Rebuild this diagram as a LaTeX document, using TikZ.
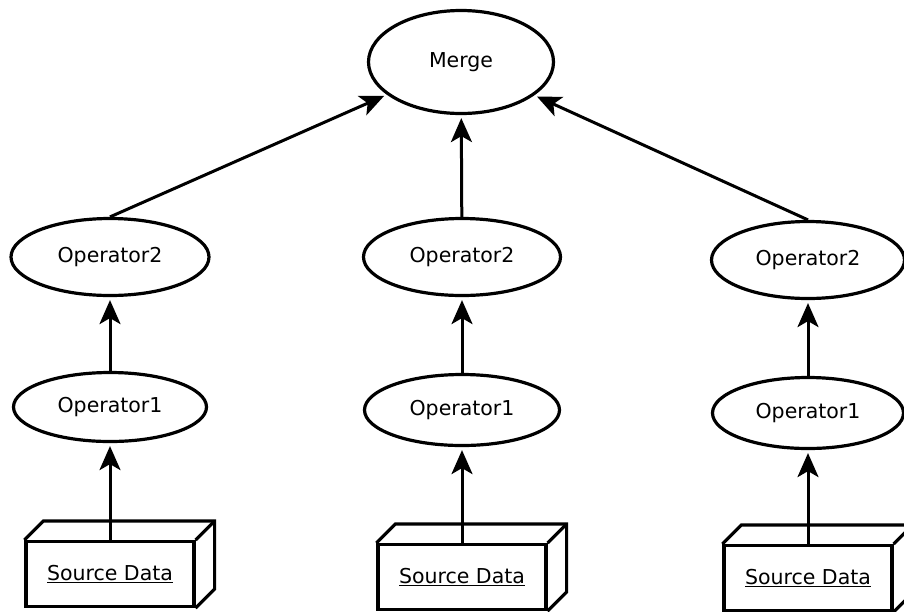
\documentclass[tikz,border=0pt]{standalone}
\usepackage{fontspec}
\setmainfont{DejaVu Sans}
\usetikzlibrary{shapes.geometric,arrows.meta}
\begin{document}
\begin{tikzpicture}[x=1pt,y=-1pt,
  op/.style={ellipse,draw,line width=3.2pt,inner sep=0pt,font=\fontsize{20.5}{24}\selectfont},
  src/.style={draw,line width=3.2pt,minimum width=168pt,minimum height=65pt,inner sep=0pt,font=\fontsize{20.5}{24}\selectfont},
  cube/.style={line width=3.2pt,line join=miter},
  link/.style={line width=3pt,shorten >=3pt,-{Stealth[length=24pt,width=21pt,inset=6pt]}}]
\useasboundingbox (0,0) rectangle (904,611);
\clip (0,0) rectangle (904,611);
% top
\node[op,minimum width=185pt,minimum height=103pt] (merge) at (461,62) {Merge};
% left column
\node[op,minimum width=198pt,minimum height=77pt] (op2L) at (110,257) {Operator2};
\node[op,minimum width=193pt,minimum height=69pt] (op1L) at (110,407) {Operator1};
\node[src] (srcL) at (110,574) {\underline{Source Data}};
% middle column
\node[op,minimum width=197pt,minimum height=77pt] (op2M) at (462,257) {Operator2};
\node[op,minimum width=195pt,minimum height=71pt] (op1M) at (462,410) {Operator1};
\node[src] (srcM) at (462,577) {\underline{Source Data}};
% right column
\node[op,minimum width=193pt,minimum height=77pt] (op2R) at (808,260) {Operator2};
\node[op,minimum width=191pt,minimum height=71pt] (op1R) at (808,413) {Operator1};
\node[src] (srcR) at (808,578) {\underline{Source Data}};
% 3D faces of the boxes
\foreach \s in {srcL,srcM,srcR}{
  \draw[cube] (\s.north west) -- ([xshift=19pt,yshift=19pt]\s.north west)
    -- ([xshift=19pt,yshift=19pt]\s.north east)
    -- ([xshift=19pt,yshift=19pt]\s.south east) -- (\s.south east);
  \draw[cube] (\s.north east) -- ([xshift=19pt,yshift=19pt]\s.north east);
}
% connectors
\draw[link] (srcL) -- (op1L);
\draw[link] (op1L) -- (op2L);
\draw[link] (srcM) -- (op1M);
\draw[link] (op1M) -- (op2M);
\draw[link] (srcR) -- (op1R);
\draw[link] (op1R) -- (op2R);
\draw[link] (op2L.north) -- (merge);
\draw[link] (op2M) -- (merge);
\draw[link] (op2R.north) -- (merge);
\end{tikzpicture}
\end{document}
